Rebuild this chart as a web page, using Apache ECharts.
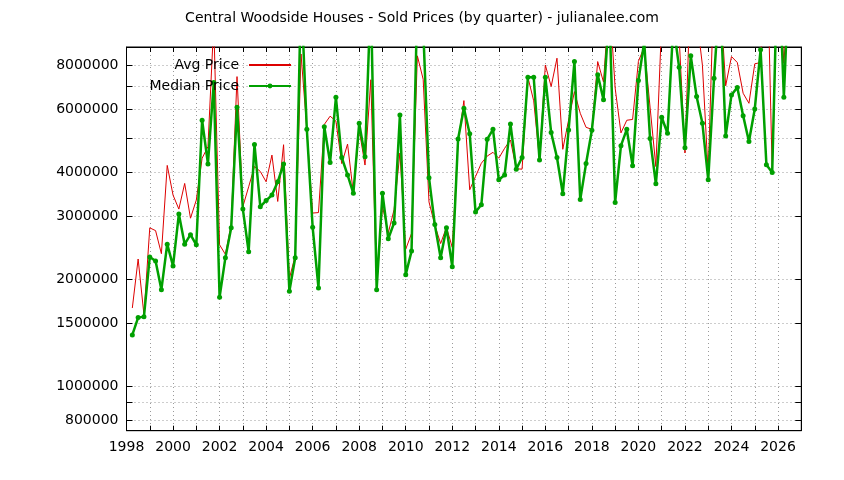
<!DOCTYPE html>
<html>
<head>
<meta charset="utf-8">
<script src="https://cdn.jsdelivr.net/npm/echarts@6/dist/echarts.min.js"></script>
<style>html,body{margin:0;padding:0;background:#fff;}#c{width:844px;height:480px;}</style>
</head>
<body>
<div id="c"></div>
<script>
// Quarterly series, first quarter = 1998 Q1
const startYear = 1998;
const quarterCount = 114;

const avgPrice = [
  1660000,2280000,1590000,2790000,2740000,2360000,4180000,3450000,3150000,3720000,
  2970000,3340000,4380000,4720000,10500000,2500000,2350000,2850000,7430000,3200000,
  3640000,4150000,4020000,3760000,4470000,3310000,4780000,2010000,2330000,8600000,
  5280000,3070000,3080000,5450000,5750000,5570000,4230000,4800000,3490000,5270000,
  4190000,7280000,1900000,3210000,2700000,3140000,4530000,2430000,2690000,8500000,
  7300000,3300000,2840000,2520000,2800000,2460000,4850000,6360000,3570000,3890000,
  4240000,4440000,4550000,4380000,4670000,4930000,4090000,4080000,7400000,6350000,
  4330000,8010000,6970000,8370000,4640000,5610000,6740000,5860000,5350000,5280000,
  8190000,7170000,12500000,6900000,5160000,5600000,5630000,8200000,9000000,6100000,
  4150000,10600000,12000000,11000000,9600000,4530000,14000000,11000000,8000000,3950000,
  14000000,13000000,7000000,8460000,8140000,6670000,6250000,8070000,8140000,20000000,
  4000000,16000000,8100000,14000000
];

const medianPrice = [
  1395000,1560000,1570000,2310000,2250000,1870000,2510000,2180000,3050000,2510000,
  2670000,2500000,5600000,4220000,7150000,1780000,2300000,2790000,6090000,3150000,
  2390000,4790000,3200000,3330000,3450000,3760000,4220000,1850000,2300000,13000000,
  5280000,2800000,1890000,5370000,4260000,6500000,4400000,3930000,3490000,5490000,
  4420000,12700000,1870000,3490000,2600000,2880000,5790000,2060000,2400000,12400000,
  10200000,3860000,2850000,2300000,2790000,2170000,4960000,6050000,5130000,3090000,
  3240000,4950000,5280000,3810000,3930000,5470000,4080000,4400000,7400000,7400000,
  4330000,7400000,5170000,4400000,3480000,5260000,8190000,3350000,4230000,5250000,
  7520000,6400000,11500000,3290000,4750000,5280000,4170000,7240000,9300000,4980000,
  3710000,5710000,5150000,10400000,7890000,4690000,8500000,6530000,5490000,3810000,
  7350000,13000000,5060000,6600000,6920000,5770000,4880000,6020000,8840000,4200000,
  3990000,18000000,6500000,16000000
];

const yLabelValues = [800000, 1000000, 1500000, 2000000, 3000000, 4000000, 6000000, 8000000];
const yGridValues = [800000, 900000, 1000000, 1500000, 2000000, 3000000, 4000000, 5000000, 6000000, 7000000, 8000000];
const xLabelYears = [1998,2000,2002,2004,2006,2008,2010,2012,2014,2016,2018,2020,2022,2024,2026];

// quarter positions: year + quarter/4
const quarterX = [];
for (let i = 0; i < quarterCount; i++) {
  const y = startYear + Math.floor(i / 4);
  const q = (i % 4) + 1;
  quarterX.push(y + q / 4);
}
const avgData = avgPrice.map((v, i) => [quarterX[i], v]);
const medData = medianPrice.map((v, i) => [quarterX[i], v]);

const FONT = 'DejaVu Sans';
const FS = 14;
const gridLine = { show: true, lineStyle: { color: '#9a9a9a', type: [1, 3], width: 1 } };
const black = { color: '#000', width: 1 };

const chart = echarts.init(document.getElementById('c'), null, { renderer: 'canvas' });
chart.setOption({
  backgroundColor: '#fff',
  animation: false,
  textStyle: { fontFamily: FONT },
  title: {
    text: 'Central Woodside Houses - Sold Prices (by quarter) - julianalee.com',
    left: 'center', top: 6,
    textStyle: { fontSize: FS, fontWeight: 'normal', color: '#000', fontFamily: FONT }
  },
  legend: [
    { data: ['Avg Price'], right: 547, top: 53, orient: 'vertical', align: 'right',
      itemWidth: 42, itemHeight: 6, selectedMode: false,
      itemStyle: { color: 'rgba(0,0,0,0)', borderWidth: 0 },
      textStyle: { fontSize: FS, color: '#000', fontFamily: FONT, padding: [0, 5, 0, 0] } },
    { data: ['Median Price'], right: 547, top: 74, orient: 'vertical', align: 'right',
      itemWidth: 42, itemHeight: 6, selectedMode: false,
      textStyle: { fontSize: FS, color: '#000', fontFamily: FONT, padding: [0, 5, 0, 0] } }
  ],
  grid: { left: 126.5, right: 42.7, top: 47, bottom: 49.3, show: true, borderColor: '#000', borderWidth: 1 },
  xAxis: [
    { type: 'value', min: 1998, max: 2027, interval: 1,
      axisLine: { lineStyle: black },
      axisTick: { inside: true, length: 5, lineStyle: black },
      axisLabel: { color: '#000', fontSize: FS, fontFamily: FONT, margin: 10,
        formatter: v => xLabelYears.indexOf(Math.round(v)) >= 0 ? String(Math.round(v)) : '' },
      splitLine: gridLine },
    { type: 'value', position: 'top', min: 1998, max: 2027, interval: 1,
      axisLine: { lineStyle: black },
      axisTick: { inside: true, length: 5, lineStyle: black },
      axisLabel: { show: false }, splitLine: { show: false } }
  ],
  yAxis: [
    { type: 'log', logBase: 10, min: 750000, max: 9000000,
      axisLine: { lineStyle: black },
      axisTick: { inside: true, length: 6, lineStyle: black, customValues: yGridValues },
      axisLabel: { color: '#000', fontSize: FS, fontFamily: FONT, margin: 8,
        customValues: yLabelValues, formatter: v => String(Math.round(v)) },
      splitLine: gridLine },
    { type: 'log', logBase: 10, min: 750000, max: 9000000, position: 'right',
      axisLine: { lineStyle: black },
      axisTick: { inside: true, length: 6, lineStyle: black, customValues: yGridValues },
      axisLabel: { show: false, customValues: yLabelValues }, splitLine: { show: false } }
  ],
  series: [
    { name: 'Avg Price', type: 'line', data: avgData, symbol: 'none', clip: true,
      lineStyle: { color: '#dd0000', width: 1 }, itemStyle: { color: '#dd0000' }, z: 2 },
    { name: 'Median Price', type: 'line', data: medData, symbol: 'circle', symbolSize: 5,
      showSymbol: true, showAllSymbol: true, clip: true,
      lineStyle: { color: '#00a000', width: 2.5 }, itemStyle: { color: '#00a000' }, z: 3 }
  ]
});
</script>
</body>
</html>
